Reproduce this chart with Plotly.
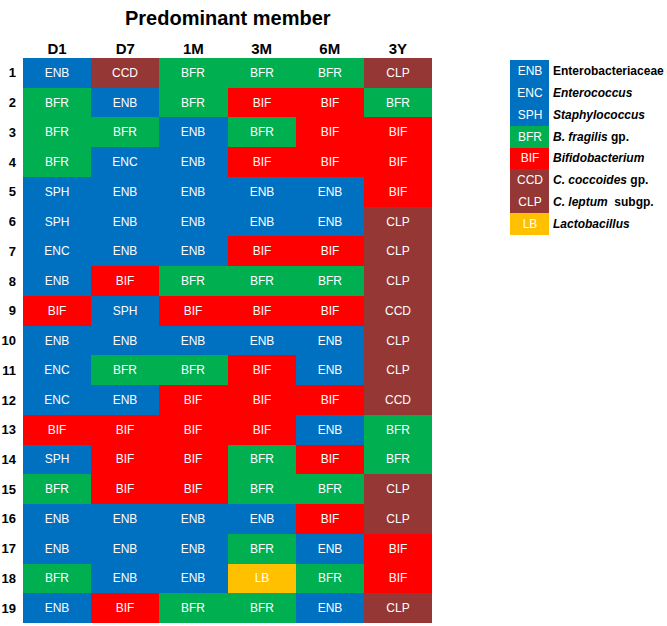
import plotly.graph_objects as go

columns = ["D1", "D7", "1M", "3M", "6M", "3Y"]
subjects = list(range(1, 20))
members = [
    ["ENB", "CCD", "BFR", "BFR", "BFR", "CLP"],
    ["BFR", "ENB", "BFR", "BIF", "BIF", "BFR"],
    ["BFR", "BFR", "ENB", "BFR", "BIF", "BIF"],
    ["BFR", "ENC", "ENB", "BIF", "BIF", "BIF"],
    ["SPH", "ENB", "ENB", "ENB", "ENB", "BIF"],
    ["SPH", "ENB", "ENB", "ENB", "ENB", "CLP"],
    ["ENC", "ENB", "ENB", "BIF", "BIF", "CLP"],
    ["ENB", "BIF", "BFR", "BFR", "BFR", "CLP"],
    ["BIF", "SPH", "BIF", "BIF", "BIF", "CCD"],
    ["ENB", "ENB", "ENB", "ENB", "ENB", "CLP"],
    ["ENC", "BFR", "BFR", "BIF", "ENB", "CLP"],
    ["ENC", "ENB", "BIF", "BIF", "BIF", "CCD"],
    ["BIF", "BIF", "BIF", "BIF", "ENB", "BFR"],
    ["SPH", "BIF", "BIF", "BFR", "BIF", "BFR"],
    ["BFR", "BIF", "BIF", "BFR", "BFR", "CLP"],
    ["ENB", "ENB", "ENB", "ENB", "BIF", "CLP"],
    ["ENB", "ENB", "ENB", "BFR", "ENB", "BIF"],
    ["BFR", "ENB", "ENB", "LB", "BFR", "BIF"],
    ["ENB", "BIF", "BFR", "BFR", "ENB", "CLP"],
]

codes = ["ENB", "ENC", "SPH", "BFR", "BIF", "CCD", "CLP", "LB"]
names = ["Enterobacteriaceae", "<i>Enterococcus</i>", "<i>Staphylococcus</i>",
         "<i>B. fragilis</i> gp.", "<i>Bifidobacterium</i>", "<i>C. coccoides</i> gp.",
         "<i>C. leptum</i>  subgp.", "<i>Lactobacillus</i>"]
colors = ["#0070C0", "#0070C0", "#0070C0", "#00B050", "#FF0000",
          "#953735", "#953735", "#FFC000"]

W, H = 667, 626
n = len(codes)
cscale = []
for i, c in enumerate(colors):
    cscale.append([i / n, c])
    cscale.append([(i + 1) / n, c])

z = [[codes.index(m) for m in row] for row in members]

fig = go.Figure()
fig.add_trace(go.Heatmap(
    x=columns, y=subjects, z=z, text=members, texttemplate="%{text}",
    textfont=dict(color="white", size=12, family="Liberation Sans"),
    colorscale=cscale, zmin=-0.5, zmax=n - 0.5, showscale=False,
    hoverinfo="skip",
))
fig.add_trace(go.Heatmap(
    x=[0], y=list(range(n)), z=[[i] for i in range(n)], text=[[c] for c in codes],
    texttemplate="%{text}",
    textfont=dict(color="white", size=12, family="Liberation Sans"),
    colorscale=cscale, zmin=-0.5, zmax=n - 0.5, showscale=False,
    hoverinfo="skip", xaxis="x2", yaxis="y2",
))

for i, name in enumerate(names):
    fig.add_annotation(
        x=551 / W, xref="paper", y=i, yref="y2", text="<b>" + name + "</b>",
        showarrow=False, xanchor="left",
        font=dict(size=12, color="black", family="Liberation Sans"),
    )

fig.add_annotation(
    x=227.5 / W, y=1 - 18 / H, xref="paper", yref="paper",
    text="<b>Predominant member</b>", showarrow=False, yanchor="middle",
    font=dict(size=20, color="black", family="Liberation Sans"),
)

fig.update_layout(
    width=W, height=H,
    margin=dict(l=0, r=0, t=0, b=0),
    paper_bgcolor="white", plot_bgcolor="white",
    font=dict(family="Liberation Sans", color="black"),
    xaxis=dict(domain=[23 / W, 432 / W], side="top", showgrid=False, zeroline=False,
               tickvals=columns, ticktext=["<b>" + c + "</b>" for c in columns],
               tickfont=dict(size=15), ticks=""),
    yaxis=dict(domain=[1 - 623 / H, 1 - 58 / H], autorange="reversed",
               showgrid=False, zeroline=False,
               tickvals=subjects, ticktext=["<b>%d</b>" % s for s in subjects],
               tickfont=dict(size=13), ticks="", ticklabelstandoff=6),
    xaxis2=dict(domain=[510 / W, 549 / W], anchor="y2", visible=False),
    yaxis2=dict(domain=[1 - 235 / H, 1 - 60 / H], anchor="x2", autorange="reversed",
                visible=False),
)

fig.write_html("out.html", config={"displayModeBar": False},
               post_script="document.body.style.margin='0';")
